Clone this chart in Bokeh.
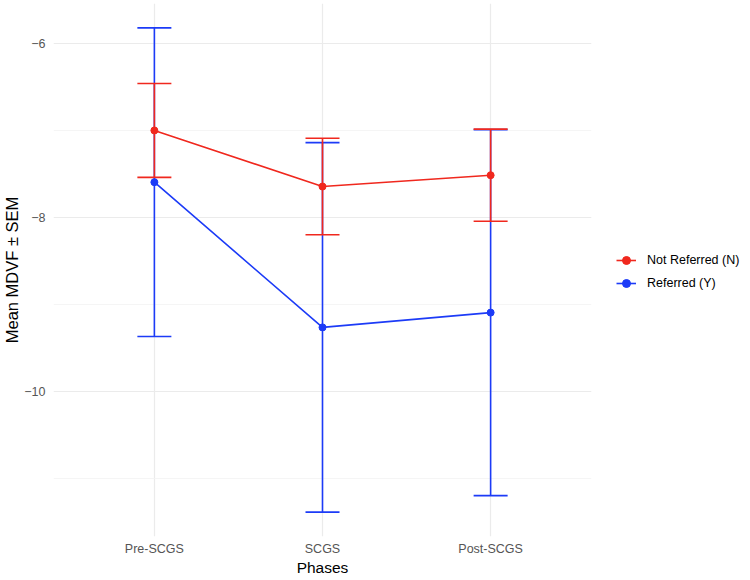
from bokeh.plotting import figure
from bokeh.models import (ColumnDataSource, FactorRange, Range1d, FixedTicker,
                          Whisker, TeeHead, Legend, LegendItem)
from bokeh.embed import file_html
from bokeh.resources import INLINE

# Mean MDVF and its standard error per phase, for each referral group
phases = ["Pre-SCGS", "SCGS", "Post-SCGS"]
groups = ["Not Referred (N)", "Referred (Y)"]
mean_not_referred = [-7.00, -7.645, -7.515]
sem_not_referred = [0.54, 0.555, 0.53]
mean_referred = [-7.595, -9.265, -9.095]
sem_referred = [1.775, 2.125, 2.105]
y_ticks = [-10, -8, -6]
y_minor = [-11, -9, -7]

colors = {"Not Referred (N)": "#F0281E", "Referred (Y)": "#1C3BF7"}
FONT = "Liberation Sans"

p = figure(frame_width=538, frame_height=533,
           output_backend="svg", toolbar_location=None,
           x_range=FactorRange(factors=phases, range_padding=0.2 / 3),
           y_range=Range1d(-11.67, -5.54),
           min_border_left=53, min_border_right=159,
           min_border_top=3, min_border_bottom=44)
p.outline_line_color = None
p.background_fill_color = "white"
p.border_fill_color = "white"

# grid lines in the style of a minimal theme
p.xgrid.grid_line_color = "#EBEBEB"
p.xgrid.grid_line_width = 1.2
p.ygrid.grid_line_color = "#EBEBEB"
p.ygrid.grid_line_width = 1.2
p.ygrid.minor_grid_line_color = "#F2F2F2"
p.ygrid.minor_grid_line_width = 0.8
p.yaxis.ticker = FixedTicker(ticks=y_ticks, minor_ticks=y_minor)

for ax in (p.xaxis[0], p.yaxis[0]):
    ax.axis_line_color = None
    ax.major_tick_line_color = None
    ax.minor_tick_line_color = None
    ax.major_tick_out = 0
    ax.minor_tick_out = 0
    ax.major_label_text_font = FONT
    ax.major_label_text_font_size = "12.5px"
    ax.major_label_text_color = "#555555"
    ax.axis_label_text_font = FONT
    ax.axis_label_text_font_style = "normal"
    ax.axis_label_text_color = "black"

p.xaxis.axis_label = "Phases"
p.xaxis.axis_label_text_font_size = "15.5px"
p.xaxis.major_label_standoff = 5
p.xaxis.axis_label_standoff = 0
p.yaxis.axis_label = "Mean MDVF \u00b1 SEM"
p.yaxis.axis_label_text_font_size = "16.5px"
p.yaxis.major_label_standoff = 8
p.yaxis.axis_label_standoff = 0

series = [
    ("Referred (Y)", mean_referred, sem_referred),
    ("Not Referred (N)", mean_not_referred, sem_not_referred),
]

legend_items = {}
for name, means, sems in series:
    col = colors[name]
    src = ColumnDataSource(dict(
        phase=phases, mean=means,
        lower=[m - s for m, s in zip(means, sems)],
        upper=[m + s for m, s in zip(means, sems)],
    ))
    w = Whisker(source=src, base="phase", lower="lower", upper="upper",
                line_color=col, line_width=1.6,
                upper_head=TeeHead(size=34, line_color=col, line_width=1.6),
                lower_head=TeeHead(size=34, line_color=col, line_width=1.6))
    p.add_layout(w)
    ln = p.line("phase", "mean", source=src, line_color=col, line_width=1.6)
    pt = p.scatter("phase", "mean", source=src, size=7, color=col)
    legend_items[name] = [ln, pt]

legend = Legend(items=[LegendItem(label=g, renderers=legend_items[g]) for g in groups],
                location=(25, 243), orientation="vertical",
                border_line_color=None, background_fill_alpha=0,
                padding=0, margin=0, spacing=3,
                glyph_width=20, glyph_height=20, label_standoff=11,
                label_text_font=FONT, label_text_font_size="12.5px",
                label_text_color="black")
p.add_layout(legend, "right")

open("out.html", "w").write(file_html(p, INLINE))
